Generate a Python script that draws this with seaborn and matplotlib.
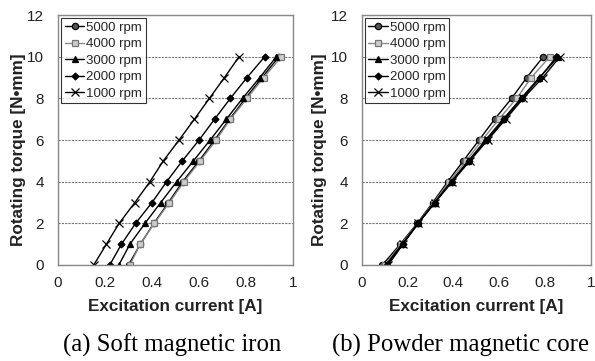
import matplotlib
matplotlib.use("Agg")
import matplotlib.pyplot as plt
import seaborn as sns
import pandas as pd

torque = [0, 1, 2, 3, 4, 5, 6, 7, 8, 9, 10]
speeds = ["5000 rpm", "4000 rpm", "3000 rpm", "2000 rpm", "1000 rpm"]

# (a) Soft magnetic iron: excitation current [A] per torque step
iron_5000 = [0.30, 0.35, 0.408, 0.47, 0.53, 0.60, 0.666, 0.73, 0.797, 0.868, 0.94]
iron_4000 = [0.306, 0.349, 0.41, 0.474, 0.536, 0.605, 0.673, 0.733, 0.804, 0.875, 0.95]
iron_3000 = [0.259, 0.306, 0.37, 0.437, 0.505, 0.576, 0.647, 0.716, 0.785, 0.858, 0.929]
iron_2000 = [0.22, 0.27, 0.33, 0.40, 0.462, 0.529, 0.60, 0.666, 0.733, 0.804, 0.879]
iron_1000 = [0.152, 0.206, 0.26, 0.327, 0.391, 0.448, 0.515, 0.58, 0.644, 0.708, 0.77]

# (b) Powder magnetic core
powder_5000 = [0.09, 0.168, 0.242, 0.31, 0.375, 0.443, 0.512, 0.58, 0.654, 0.72, 0.792]
powder_4000 = [0.10, 0.172, 0.244, 0.314, 0.382, 0.455, 0.526, 0.598, 0.676, 0.74, 0.82]
powder_3000 = [0.105, 0.176, 0.246, 0.318, 0.39, 0.465, 0.54, 0.617, 0.695, 0.775, 0.858]
powder_2000 = [0.11, 0.178, 0.246, 0.318, 0.392, 0.468, 0.545, 0.622, 0.70, 0.778, 0.85]
powder_1000 = [0.116, 0.18, 0.247, 0.32, 0.395, 0.472, 0.55, 0.628, 0.705, 0.79, 0.865]

iron = [iron_5000, iron_4000, iron_3000, iron_2000, iron_1000]
powder = [powder_5000, powder_4000, powder_3000, powder_2000, powder_1000]

x_ticks = [0, 0.2, 0.4, 0.6, 0.8, 1]
x_ticklabels = ["0", "0.2", "0.4", "0.6", "0.8", "1"]
y_ticks = [0, 2, 4, 6, 8, 10, 12]
captions = ["(a) Soft magnetic iron", "(b) Powder magnetic core"]

sns.set_theme(style="white")
plt.rcParams["font.family"] = ["Liberation Sans", "DejaVu Sans"]

markers = ["o", "s", "^", "D", "x"]
msizes = [4.5, 4.5, 4.5, 3.5, 5.5]
mfaces = ["#555555", "#cccccc", "black", "black", "black"]
medges = ["black", "#777777", "black", "black", "black"]
lcolors = ["black", "#888888", "black", "black", "black"]

fig = plt.figure(figsize=(5.95, 3.61), dpi=100)
ax_a = fig.add_axes([0.0975, 0.266, 0.395, 0.692])
ax_b = fig.add_axes([0.608, 0.266, 0.385, 0.692])

cap_x = [172 / 595, 460 / 595]
ylab_x = [-0.168, -0.183]

for k, (ax, data) in enumerate([(ax_a, iron), (ax_b, powder)]):
    for i, lab in enumerate(speeds):
        df = pd.DataFrame({"current": data[i], "torque": torque})
        sns.lineplot(data=df, x="current", y="torque", ax=ax, sort=False,
                     color=lcolors[i], lw=1.0, marker=markers[i], markersize=msizes[i],
                     markerfacecolor=mfaces[i], markeredgecolor=medges[i],
                     markeredgewidth=0.9, label=lab)
    ax.set_xlim(0, 1)
    ax.set_ylim(0, 12)
    ax.set_xticks(x_ticks)
    ax.set_xticklabels(x_ticklabels)
    ax.set_yticks(y_ticks)
    ax.tick_params(axis="x", labelsize=11, length=0, pad=8, colors="#222222")
    ax.tick_params(axis="y", labelsize=11, length=0, pad=10, colors="#222222")
    ax.yaxis.grid(True, color="#777777", lw=0.8, ls=(0, (2, 1)))
    ax.xaxis.grid(False)
    for s in ax.spines.values():
        s.set_color("#888888")
        s.set_linewidth(1.0)
    ax.set_xlabel("Excitation current [A]", fontsize=12.3, fontweight="bold", color="#222222")
    ax.set_ylabel("Rotating torque [N•mm]", fontsize=12.3, fontweight="bold", color="#222222")
    ax.xaxis.set_label_coords(0.5, -0.168)
    ax.xaxis.label.set_va("center")
    ax.yaxis.set_label_coords(ylab_x[k], 0.46)
    ax.yaxis.label.set_va("center")
    leg = ax.legend(loc="upper left", fontsize=9.5, frameon=True, fancybox=False,
                    borderpad=0.25, labelspacing=0.32, handlelength=1.5, handletextpad=0.15,
                    borderaxespad=0.25)
    leg.get_frame().set_edgecolor("black")
    leg.get_frame().set_linewidth(0.8)
    fig.text(cap_x[k], 1 - 345 / 361, captions[k], ha="center", va="center",
             fontsize=17.8, family=["Liberation Serif", "DejaVu Serif"], color="black")

fig.savefig("out.png", dpi=100)
